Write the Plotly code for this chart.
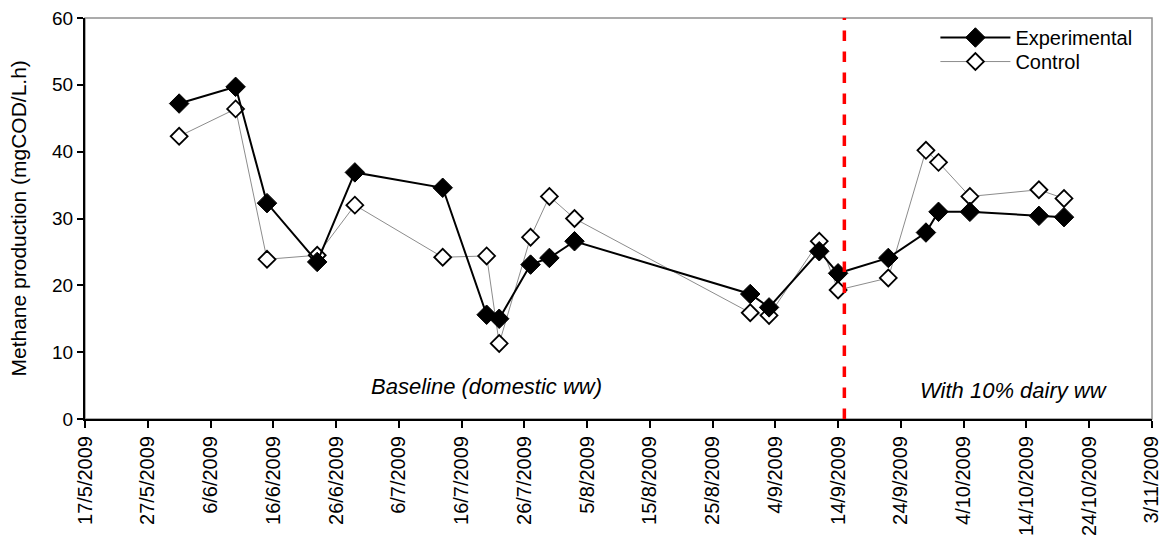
import plotly.graph_objects as go

dates = ["2009-06-01", "2009-06-10", "2009-06-15", "2009-06-23", "2009-06-29",
         "2009-07-13", "2009-07-20", "2009-07-22", "2009-07-27", "2009-07-30",
         "2009-08-03", "2009-08-31", "2009-09-03", "2009-09-11", "2009-09-14",
         "2009-09-22", "2009-09-28", "2009-09-30", "2009-10-05", "2009-10-16",
         "2009-10-20"]
experimental = [47.2, 49.7, 32.3, 23.5, 36.9, 34.6, 15.6, 15.0, 23.1, 24.1,
                26.6, 18.7, 16.7, 25.1, 21.8, 24.1, 27.9, 31.0, 31.0, 30.4, 30.2]
control = [42.3, 46.4, 23.9, 24.5, 32.0, 24.2, 24.4, 11.3, 27.2, 33.3,
           30.0, 15.9, 15.5, 26.6, 19.3, 21.1, 40.2, 38.4, 33.3, 34.3, 33.0]
change_date = "2009-09-15"
x_tick_dates = ["2009-05-17", "2009-05-27", "2009-06-06", "2009-06-16", "2009-06-26",
                "2009-07-06", "2009-07-16", "2009-07-26", "2009-08-05", "2009-08-15",
                "2009-08-25", "2009-09-04", "2009-09-14", "2009-09-24", "2009-10-04",
                "2009-10-14", "2009-10-24", "2009-11-03"]
x_tick_labels = ["17/5/2009", "27/5/2009", "6/6/2009", "16/6/2009", "26/6/2009",
                 "6/7/2009", "16/7/2009", "26/7/2009", "5/8/2009", "15/8/2009",
                 "25/8/2009", "4/9/2009", "14/9/2009", "24/9/2009", "4/10/2009",
                 "14/10/2009", "24/10/2009", "3/11/2009"]
x_range = ["2009-05-17", "2009-11-03 00:30"]
y_ticks = [0, 10, 20, 30, 40, 50, 60]

FONT = "Liberation Sans, Arial, sans-serif"

fig = go.Figure()
fig.add_trace(go.Scatter(
    x=dates, y=control, name="Control", mode="lines+markers",
    line=dict(color="#8c8c8c", width=1),
    marker=dict(symbol="diamond", size=13, color="white",
                line=dict(color="black", width=1.8)),
    legend="legend2",
))
fig.add_trace(go.Scatter(
    x=dates, y=experimental, name="Experimental", mode="lines+markers",
    line=dict(color="black", width=2),
    marker=dict(symbol="diamond", size=15, color="black",
                line=dict(color="black", width=1)),
    legend="legend",
))

# plot border (gray top/right)
fig.add_shape(type="rect", xref="paper", yref="paper", x0=0, x1=1, y0=0, y1=1,
              line=dict(color="#909090", width=1.5), layer="below")
# red dashed change line
fig.add_shape(type="line", xref="x", yref="paper", x0=change_date, x1=change_date,
              y0=0, y1=1, line=dict(color="#ff0000", width=3.5, dash="dash"))

fig.add_annotation(x="2009-07-20", y=4.8, text="<i>Baseline (domestic ww)</i>",
                   showarrow=False, font=dict(family=FONT, size=22, color="black"))
fig.add_annotation(x="2009-10-12", y=4.3, text="<i>With 10% dairy ww</i>",
                   showarrow=False, font=dict(family=FONT, size=22, color="black"))
# y-axis title
fig.add_annotation(xref="paper", yref="paper", x=0, y=0.5, xshift=-67,
                   xanchor="center", yanchor="middle",
                   textangle=-90, showarrow=False,
                   text="Methane production (mgCOD/L.h)",
                   font=dict(family=FONT, size=21, color="black"))

legend_common = dict(xanchor="left", yanchor="top", bgcolor="rgba(0,0,0,0)",
                     font=dict(family=FONT, size=20), itemwidth=70)

fig.update_layout(
    width=1161, height=543,
    margin=dict(l=85, r=9, t=18, b=124),
    plot_bgcolor="white", paper_bgcolor="white",
    font=dict(family=FONT, size=20, color="black"),
    showlegend=True,
    legend=dict(x=0.797, y=1.0, **legend_common),
    legend2=dict(x=0.797, y=0.94, **legend_common),
    xaxis=dict(
        type="date", range=x_range, tickvals=x_tick_dates, ticktext=x_tick_labels,
        tickangle=-90, ticks="outside", ticklen=7,
        tickwidth=1.5, tickcolor="black", showline=True, linecolor="black",
        linewidth=2, showgrid=False, zeroline=False, automargin=False,
        ticklabeloverflow="allow",
        tickfont=dict(family=FONT, size=20),
    ),
    yaxis=dict(
        range=[0, 60], tickvals=y_ticks, ticks="outside", ticklen=6,
        tickwidth=1.5, tickcolor="black", showline=True, linecolor="black",
        linewidth=2, showgrid=False, zeroline=False, automargin=False,
        ticklabeloverflow="allow",
        tickfont=dict(family=FONT, size=19),
    ),
)

# remove the default page margin so the figure fills the 1161x543 window
page_fix = ("document.body.style.margin='0';"
            "document.body.style.overflow='hidden';"
            "document.documentElement.style.overflow='hidden';")
fig.write_html("out.html", post_script=page_fix,
               config={"displayModeBar": False})
